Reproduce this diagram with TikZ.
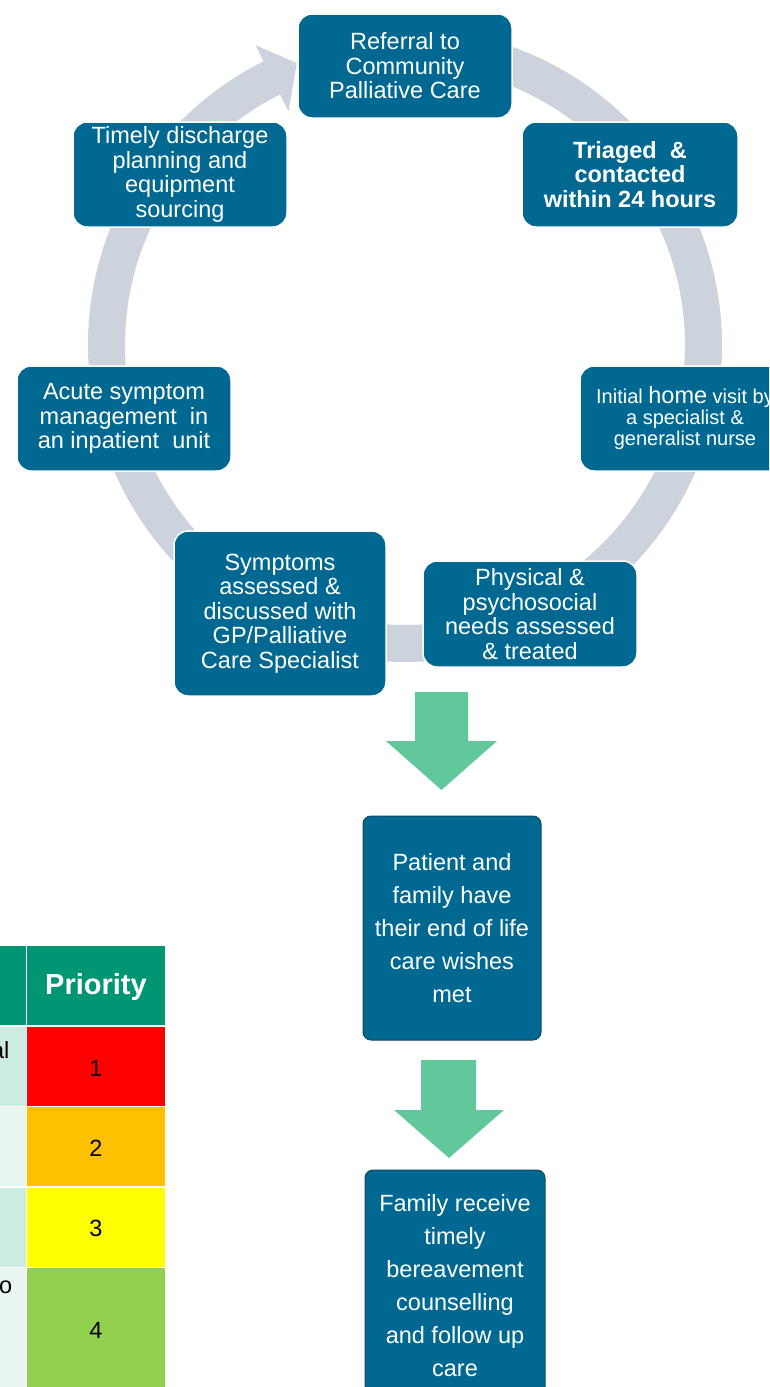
\documentclass[tikz,border=0pt]{standalone}
\usepackage{fontspec}
\setmainfont{Liberation Sans}
\definecolor{nodeblue}{RGB}{0,104,145}
\definecolor{ringgray}{RGB}{204,211,221}
\definecolor{arrowgreen}{RGB}{96,200,155}
\definecolor{hdrgreen}{RGB}{0,150,115}
\definecolor{mintA}{RGB}{204,235,225}
\definecolor{mintB}{RGB}{232,245,240}
\definecolor{prioA}{RGB}{255,0,0}
\definecolor{prioB}{RGB}{255,192,0}
\definecolor{prioC}{RGB}{255,255,0}
\definecolor{prioD}{RGB}{146,208,80}
\definecolor{darkedge}{RGB}{14,70,95}
\begin{document}
\begin{tikzpicture}[x=1pt,y=-1pt,
 cyc/.style={draw=white, line width=1.5pt, fill=nodeblue, rounded corners=14pt, text=white, align=center, inner sep=0pt, font=\fontsize{23.5}{24.5}\selectfont},
 outc/.style={draw=darkedge, line width=1pt, fill=nodeblue, rounded corners=8pt, text=white, align=center, inner sep=0pt, font=\fontsize{23.5}{33}\selectfont},
 ring/.style={draw=ringgray, line width=37pt},
 blockarrow/.style={fill=arrowgreen},
 numtext/.style={font=\fontsize{23.5}{24}\selectfont, text=black, inner sep=0pt},
 celltext/.style={font=\fontsize{23.5}{24}\selectfont, text=black, inner sep=0pt}
]
\useasboundingbox (0,0) rectangle (769,1387);
\clip (0,0) rectangle (769,1387);
\fill[white] (0,0) rectangle (769,1387);

% cycle ring
\draw[ring] plot[domain=-80:244, samples=160, smooth] ({405+298.5*cos(\x)},{345+298.5*sin(\x)});
\fill[ringgray] ({405+261*cos(243.5)},{345+261*sin(243.5)}) -- ({405+335*cos(243.5)},{345+335*sin(243.5)}) -- ({405+302*cos(249)},{345+302*sin(249)}) -- cycle;

% cycle nodes
\node[cyc, minimum width=214pt, minimum height=104pt] (ref) at (405,66) {Referral to\\Community\\Palliative Care};
\node[cyc, minimum width=216pt, minimum height=105pt, font=\fontsize{23.5}{24.5}\selectfont\bfseries] (tri) at (630,174.5) {Triaged\ \ \&\\contacted\\within 24 hours};
\node[cyc, minimum width=210pt, minimum height=105pt, font=\fontsize{20}{21}\selectfont] (home) at (685,418.5) {Initial {\fontsize{23.5}{21}\selectfont home} visit by\\a specialist \&\\generalist nurse};
\node[cyc, minimum width=214pt, minimum height=106pt] (phys) at (530,614) {Physical \&\\psychosocial\\needs assessed\\\& treated};
\node[cyc, minimum width=212pt, minimum height=165pt] (symp) at (280,613.5) {Symptoms\\assessed \&\\discussed with\\GP/Palliative\\Care Specialist};
\node[cyc, minimum width=214pt, minimum height=105pt] (acute) at (124,418.5) {Acute symptom\\management\ \ in\\an inpatient\ \ unit};
\node[cyc, minimum width=214pt, minimum height=105pt] (timely) at (180,174.5) {Timely discharge\\planning and\\equipment\\sourcing};

% outcome nodes
\node[outc, minimum width=178pt, minimum height=224pt] (patient) at (452,928) {Patient and\\family have\\their end of life\\care wishes\\met};
\node[outc, minimum width=180pt, minimum height=232pt] (family) at (455,1286) {Family receive\\timely\\bereavement\\counselling\\and follow up\\care};

% block arrows
\coordinate (tipA) at (441.5,790);
\coordinate (tipB) at (449,1158);
\fill[blockarrow] (415,692) -- (468,692) -- (468,741) -- (497,741) -- (tipA) -- (386,741) -- (415,741) -- cycle;
\fill[blockarrow] (421,1060) -- (476,1060) -- (476,1110) -- (504,1110) -- (tipB) -- (394,1110) -- (421,1110) -- cycle;

% priority table
\fill[hdrgreen] (0,946) rectangle (25.5,1025);
\fill[hdrgreen] (27,946) rectangle (165,1025);
\fill[mintA] (0,1027) rectangle (25.5,1105.5);
\fill[prioA] (27,1027) rectangle (165,1105.5);
\fill[mintB] (0,1107) rectangle (25.5,1186);
\fill[prioB] (27,1107) rectangle (165,1186);
\fill[mintA] (0,1187.5) rectangle (25.5,1266.5);
\fill[prioC] (27,1187.5) rectangle (165,1266.5);
\fill[mintB] (0,1268) rectangle (25.5,1390);
\fill[prioD] (27,1268) rectangle (165,1390);

\node[font=\fontsize{29}{30}\selectfont\bfseries, text=white, inner sep=0pt] (prio) at (96,987) {Priority};
\node[numtext] (pa) at (96,1068) {1};
\node[numtext] (pb) at (96,1148) {2};
\node[numtext] (pc) at (96,1228) {3};
\node[numtext] (pd) at (96,1330) {4};
\node[celltext, anchor=base east] (ca) at (9.5,1058) {al};
\node[celltext, anchor=base east] (cd) at (12.5,1293) {o};
\end{tikzpicture}
\end{document}
